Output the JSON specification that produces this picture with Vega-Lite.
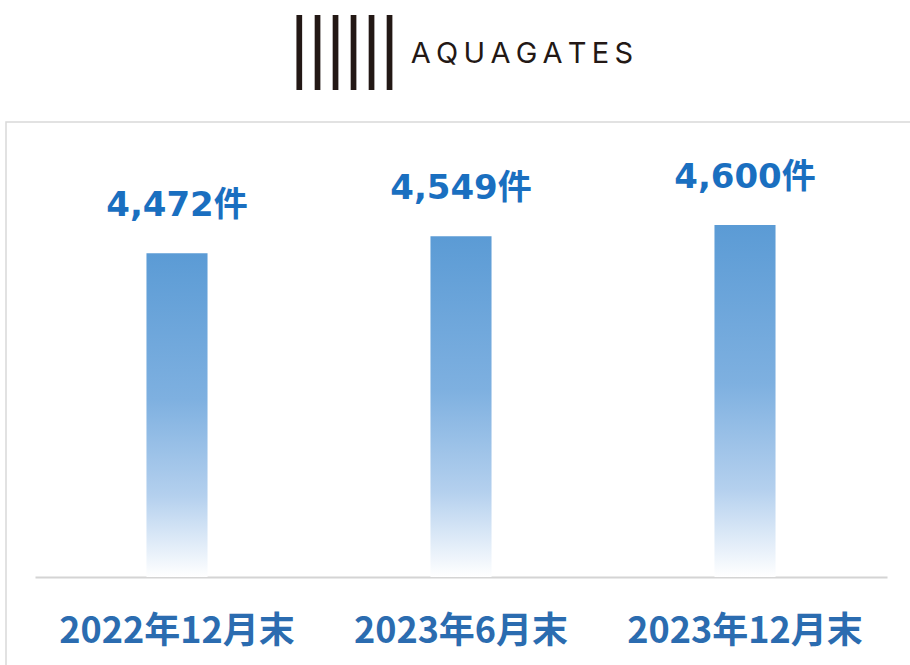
{
  "$schema": "https://vega.github.io/schema/vega-lite/v6.json",
  "autosize": {"type": "none"},
  "padding": {"left": 6, "top": 122, "right": -10, "bottom": -10},
  "width": 914,
  "height": 553,
  "background": "white",
  "config": {"view": {"stroke": "#d9d9d9", "strokeWidth": 1.5}},
  "title": {
    "text": "A\u2009Q\u2009U\u2009A\u2009G\u2009A\u2009T\u2009E\u2009S",
    "font": "Inter",
    "fontSize": 29,
    "fontWeight": 400,
    "color": "#231815",
    "frame": "group",
    "anchor": "middle",
    "dx": 59,
    "offset": -64
  },
  "data": {
    "values": [
      {"period": "2022年12月末", "count": 4472, "label": "4,472件"},
      {"period": "2023年6月末", "count": 4549, "label": "4,549件"},
      {"period": "2023年12月末", "count": 4600, "label": "4,600件"}
    ]
  },
  "encoding": {
    "x": {
      "field": "period",
      "type": "nominal",
      "sort": null,
      "scale": {"range": [29, 881], "paddingInner": 0, "paddingOuter": 0},
      "axis": {
        "title": null,
        "orient": "bottom",
        "offset": -98,
        "domainColor": "#d4d4d4",
        "domainWidth": 2,
        "ticks": false,
        "labelAngle": 0,
        "labelPadding": 37,
        "labelLimit": 0,
        "labelFont": "Liberation Sans Narrow, Noto Sans CJK JP",
        "labelFontSize": 36,
        "labelFontWeight": "bold",
        "labelColor": "#2b6cb0"
      }
    },
    "y": {
      "field": "count",
      "type": "quantitative",
      "scale": {"domain": [2555, 5068], "nice": false, "zero": false},
      "axis": {
        "domain": false,
        "ticks": false,
        "labels": false,
        "grid": false,
        "title": "||||||",
        "titleAngle": 0,
        "titleX": 338,
        "titleY": -76,
        "titleAlign": "center",
        "titleBaseline": "middle",
        "titleFont": "Liberation Sans Narrow",
        "titleFontSize": 82,
        "titleFontWeight": "bold",
        "titleColor": "#231815"
      }
    }
  },
  "layer": [
    {
      "mark": {
        "type": "bar",
        "width": {"band": 0.215},
        "color": {
          "gradient": "linear",
          "x1": 0, "y1": 0, "x2": 0, "y2": 1,
          "stops": [
            {"offset": 0, "color": "#5b9bd5"},
            {"offset": 0.45, "color": "#7eb0e0"},
            {"offset": 0.75, "color": "#b4d0ee"},
            {"offset": 1, "color": "#ffffff"}
          ]
        }
      },
      "encoding": {"y2": {"datum": 3000}}
    },
    {
      "mark": {
        "type": "text",
        "baseline": "bottom",
        "dy": -30,
        "font": "DejaVu Sans, Noto Sans CJK JP",
        "fontSize": 34,
        "fontWeight": "bold",
        "color": "#1a6fc0"
      },
      "encoding": {"text": {"field": "label"}}
    }
  ]
}
